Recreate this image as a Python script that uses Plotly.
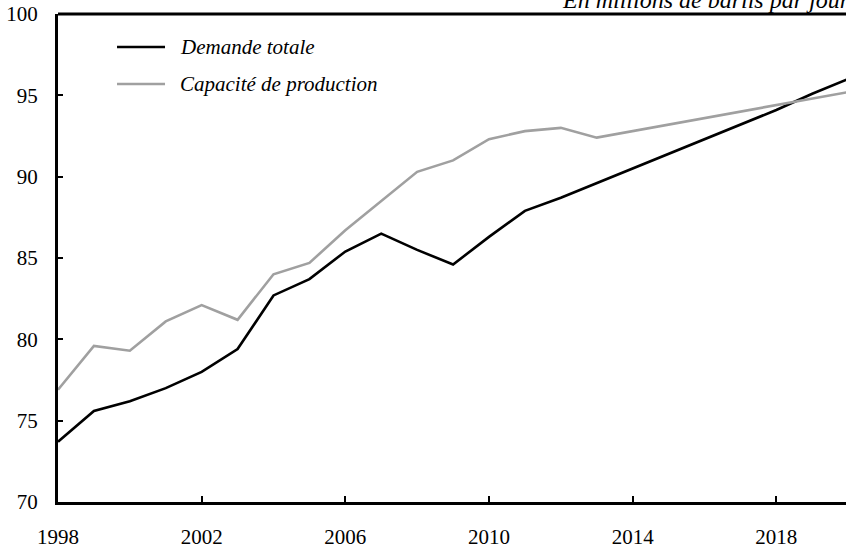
import plotly.graph_objects as go

years = list(range(1998, 2021))

demande_totale = [73.7, 75.6, 76.2, 77.0, 78.0, 79.4, 82.7, 83.7, 85.4, 86.5,
                  85.5, 84.6, 86.3, 87.9, 88.7, 89.6, 90.5, 91.4, 92.3, 93.2,
                  94.1, 95.1, 96.0]
capacite_production = [76.9, 79.6, 79.3, 81.1, 82.1, 81.2, 84.0, 84.7, 86.7, 88.5,
                       90.3, 91.0, 92.3, 92.8, 93.0, 92.4, 92.8, 93.2, 93.6, 94.0,
                       94.4, 94.8, 95.2]

x_ticks = [1998, 2002, 2006, 2010, 2014, 2018]
y_ticks = [70, 75, 80, 85, 90, 95, 100]

series = [
    ("Demande totale", demande_totale, "black"),
    ("Capacité de production", capacite_production, "#a0a0a0"),
]

FONT = "Liberation Serif"
FS = 21

fig = go.Figure()
for name, values, color in series:
    fig.add_trace(
        go.Scatter(
            x=years,
            y=values,
            mode="lines",
            name=name,
            line=dict(color=color, width=2.6),
        )
    )

fig.update_layout(
    width=846,
    height=550,
    margin=dict(l=58, r=0, t=14, b=48),
    paper_bgcolor="white",
    plot_bgcolor="white",
    font=dict(family=FONT, size=FS, color="black"),
    showlegend=False,
    xaxis=dict(
        range=[1998, 2019.94],
        tickvals=x_ticks,
        showgrid=False,
        zeroline=False,
        showline=True,
        linecolor="black",
        linewidth=3,
        ticks="inside",
        ticklen=6,
        tickwidth=2,
        tickcolor="black",
        ticklabelstandoff=14,
        automargin=False,
        tickfont=dict(family=FONT, size=FS),
    ),
    yaxis=dict(
        range=[70, 100],
        tickvals=y_ticks,
        showgrid=False,
        zeroline=False,
        showline=True,
        linecolor="black",
        linewidth=3,
        ticks="inside",
        ticklen=5,
        tickwidth=2,
        tickcolor="black",
        ticklabelstandoff=13,
        automargin=False,
        tickfont=dict(family=FONT, size=FS),
    ),
)

# cadre du haut
fig.add_shape(
    type="line", xref="paper", yref="paper",
    x0=0, x1=1, y0=1, y1=1,
    line=dict(color="black", width=3),
)

# légende dessinée à la main (traits plus longs que ceux de plotly)
legend_y = [0.9324, 0.8566]
for (name, _, color), ly in zip(series, legend_y):
    fig.add_shape(
        type="line", xref="paper", yref="paper",
        x0=0.0749, x1=0.1358, y0=ly, y1=ly,
        line=dict(color=color, width=2.6),
    )
    fig.add_annotation(
        text=name,
        xref="paper", yref="paper",
        x=0.1523, y=ly,
        xanchor="left", yanchor="middle",
        showarrow=False,
        font=dict(family=FONT, size=FS, style="italic"),
    )

fig.add_annotation(
    text="En millions de barils par jour",
    xref="paper", yref="paper",
    x=1.0076, y=1, yshift=-1,
    xanchor="right", yanchor="bottom",
    showarrow=False,
    font=dict(family=FONT, size=24, style="italic"),
)

fig.write_html(
    "out.html",
    config={"displayModeBar": False},
    post_script="document.body.style.margin = '0';",
)
